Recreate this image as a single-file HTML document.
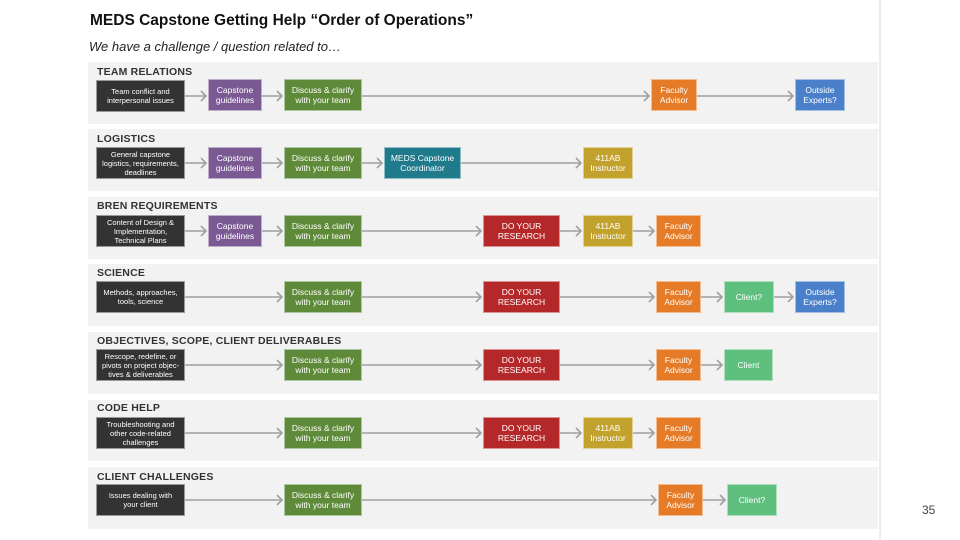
<!DOCTYPE html>
<html><head><meta charset="utf-8"><style>
body{margin:0;width:960px;height:540px;background:#fff;position:relative;overflow:hidden;font-family:"Liberation Sans",sans-serif}
.p{position:absolute;left:88px;width:790px;background:#f2f2f2}
.t{position:absolute;left:97px;font-size:10.5px;font-weight:bold;color:#333;letter-spacing:.2px}
.b{position:absolute;height:32px;display:flex;align-items:center;justify-content:center;text-align:center;color:#fff;font-size:8.5px;line-height:10px;box-sizing:border-box;border:1px solid rgba(255,255,255,.5)}
.d{background:#333;font-size:7.5px;line-height:9px}
.pu{background:#7b5a93}.g{background:#5f8a3a}.te{background:#1f7a8c}.r{background:#b5282a}.go{background:#c2a22d}.o{background:#e57b26}.lg{background:#5fbf7f}.bl{background:#4a7fc9}
</style></head><body>
<div style="position:absolute;left:90px;top:12px;font-size:15.5px;font-weight:bold;color:#111">MEDS Capstone Getting Help “Order of Operations”</div>
<div style="position:absolute;left:89px;top:39px;font-size:13px;font-style:italic;color:#222">We have a challenge / question related to…</div>
<div style="position:absolute;left:879px;top:0;width:2px;height:540px;background:#ececec"></div>
<div style="position:absolute;left:922px;top:503px;font-size:12px;color:#444">35</div>

<div class="p" style="top:62px;height:62px"></div>
<div class="p" style="top:129px;height:62px"></div>
<div class="p" style="top:197px;height:62px"></div>
<div class="p" style="top:264px;height:62px"></div>
<div class="p" style="top:332px;height:62px"></div>
<div class="p" style="top:400px;height:61px"></div>
<div class="p" style="top:467px;height:62px"></div>

<div class="t" style="top:66px">TEAM RELATIONS</div>
<div class="t" style="top:133px">LOGISTICS</div>
<div class="t" style="top:200px">BREN REQUIREMENTS</div>
<div class="t" style="top:267px">SCIENCE</div>
<div class="t" style="top:335px">OBJECTIVES, SCOPE, CLIENT DELIVERABLES</div>
<div class="t" style="top:402px">CODE HELP</div>
<div class="t" style="top:471px">CLIENT CHALLENGES</div>

<svg style="position:absolute;left:0;top:0" width="960" height="540"><g stroke="#a0a0a0" stroke-width="1.6" fill="none">
<path d="M185 96H206M201 91l5 5-5 5M262 96H282M277 91l5 5-5 5M362 96H649M644 91l5 5-5 5M697 96H793M788 91l5 5-5 5"/>
<path d="M185 163H206M201 158l5 5-5 5M262 163H282M277 158l5 5-5 5M362 163H382M377 158l5 5-5 5M461 163H581M576 158l5 5-5 5"/>
<path d="M185 231H206M201 226l5 5-5 5M262 231H282M277 226l5 5-5 5M362 231H481M476 226l5 5-5 5M560 231H581M576 226l5 5-5 5M633 231H654M649 226l5 5-5 5"/>
<path d="M185 297H282M277 292l5 5-5 5M362 297H481M476 292l5 5-5 5M560 297H654M649 292l5 5-5 5M701 297H722M717 292l5 5-5 5M774 297H793M788 292l5 5-5 5"/>
<path d="M185 365H282M277 360l5 5-5 5M362 365H481M476 360l5 5-5 5M560 365H654M649 360l5 5-5 5M701 365H722M717 360l5 5-5 5"/>
<path d="M185 433H282M277 428l5 5-5 5M362 433H481M476 428l5 5-5 5M560 433H581M576 428l5 5-5 5M633 433H654M649 428l5 5-5 5"/>
<path d="M185 500H282M277 495l5 5-5 5M362 500H656M651 495l5 5-5 5M703 500H725M720 495l5 5-5 5"/>
</g></svg>

<div class="b d" style="left:96px;top:80px;width:89px">Team conflict and<br>interpersonal issues</div>
<div class="b pu" style="left:208px;top:79px;width:54px">Capstone<br>guidelines</div>
<div class="b g" style="left:284px;top:79px;width:78px">Discuss &amp; clarify<br>with your team</div>
<div class="b o" style="left:651px;top:79px;width:46px">Faculty<br>Advisor</div>
<div class="b bl" style="left:795px;top:79px;width:50px">Outside<br>Experts?</div>

<div class="b d" style="left:96px;top:147px;width:89px">General capstone<br>logistics, requirements,<br>deadlines</div>
<div class="b pu" style="left:208px;top:147px;width:54px">Capstone<br>guidelines</div>
<div class="b g" style="left:284px;top:147px;width:78px">Discuss &amp; clarify<br>with your team</div>
<div class="b te" style="left:384px;top:147px;width:77px">MEDS Capstone<br>Coordinator</div>
<div class="b go" style="left:583px;top:147px;width:50px">411AB<br>Instructor</div>

<div class="b d" style="left:96px;top:215px;width:89px">Content of Design &amp;<br>Implementation,<br>Technical Plans</div>
<div class="b pu" style="left:208px;top:215px;width:54px">Capstone<br>guidelines</div>
<div class="b g" style="left:284px;top:215px;width:78px">Discuss &amp; clarify<br>with your team</div>
<div class="b r" style="left:483px;top:215px;width:77px">DO YOUR<br>RESEARCH</div>
<div class="b go" style="left:583px;top:215px;width:50px">411AB<br>Instructor</div>
<div class="b o" style="left:656px;top:215px;width:45px">Faculty<br>Advisor</div>

<div class="b d" style="left:96px;top:281px;width:89px">Methods, approaches,<br>tools, science</div>
<div class="b g" style="left:284px;top:281px;width:78px">Discuss &amp; clarify<br>with your team</div>
<div class="b r" style="left:483px;top:281px;width:77px">DO YOUR<br>RESEARCH</div>
<div class="b o" style="left:656px;top:281px;width:45px">Faculty<br>Advisor</div>
<div class="b lg" style="left:724px;top:281px;width:50px">Client?</div>
<div class="b bl" style="left:795px;top:281px;width:50px">Outside<br>Experts?</div>

<div class="b d" style="left:96px;top:349px;width:89px">Rescope, redefine, or<br>pivots on project objec-<br>tives &amp; deliverables</div>
<div class="b g" style="left:284px;top:349px;width:78px">Discuss &amp; clarify<br>with your team</div>
<div class="b r" style="left:483px;top:349px;width:77px">DO YOUR<br>RESEARCH</div>
<div class="b o" style="left:656px;top:349px;width:45px">Faculty<br>Advisor</div>
<div class="b lg" style="left:724px;top:349px;width:49px">Client</div>

<div class="b d" style="left:96px;top:417px;width:89px">Troubleshooting and<br>other code-related<br>challenges</div>
<div class="b g" style="left:284px;top:417px;width:78px">Discuss &amp; clarify<br>with your team</div>
<div class="b r" style="left:483px;top:417px;width:77px">DO YOUR<br>RESEARCH</div>
<div class="b go" style="left:583px;top:417px;width:50px">411AB<br>Instructor</div>
<div class="b o" style="left:656px;top:417px;width:45px">Faculty<br>Advisor</div>

<div class="b d" style="left:96px;top:484px;width:89px">Issues dealing with<br>your client</div>
<div class="b g" style="left:284px;top:484px;width:78px">Discuss &amp; clarify<br>with your team</div>
<div class="b o" style="left:658px;top:484px;width:45px">Faculty<br>Advisor</div>
<div class="b lg" style="left:727px;top:484px;width:50px">Client?</div>
</body></html>
